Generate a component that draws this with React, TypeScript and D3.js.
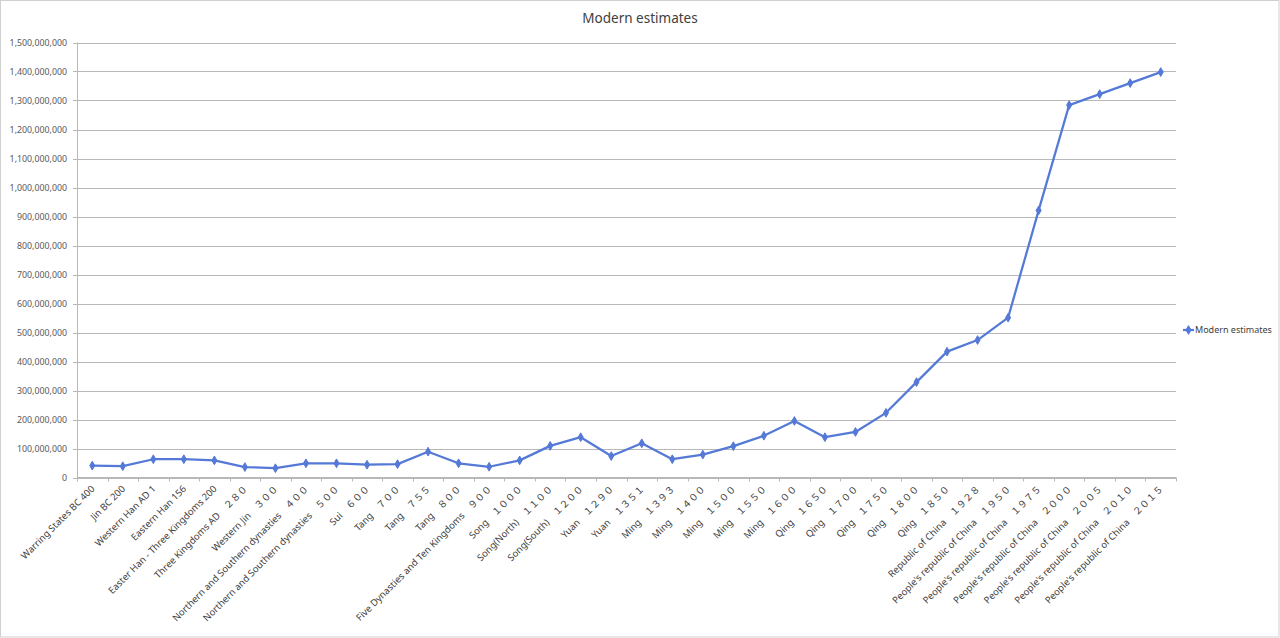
import React from "react";
import * as d3 from "d3";

const categories: string[] = [
  "Warring States BC 400",
  "Jin BC 200",
  "Western Han AD 1",
  "Eastern Han 156",
  "Easter Han - Three Kingdoms 200",
  "Three Kingdoms AD　２８０",
  "Western Jin　３００",
  "Northern and Southern dynasties　４００",
  "Northern and Southern dynasties　５００",
  "Sui　６００",
  "Tang　７００",
  "Tang　７５５",
  "Tang　８００",
  "Five Dynasties and Ten Kingdoms　９００",
  "Song　１０００",
  "Song(North)　１１００",
  "Song(South)　１２００",
  "Yuan　１２９０",
  "Yuan　１３５１",
  "Ming　１３９３",
  "Ming　１４００",
  "Ming　１５００",
  "Ming　１５５０",
  "Ming　１６００",
  "Qing　１６５０",
  "Qing　１７００",
  "Qing　１７５０",
  "Qing　１８００",
  "Qing　１８５０",
  "Republic of China　１９２８",
  "People's republic of China　１９５０",
  "People's republic of China　１９７５",
  "People's republic of China　２０００",
  "People's republic of China　２００５",
  "People's republic of China　２０１０",
  "People's republic of China　２０１５",
];

const modernEstimates: number[] = [
  41000000, 39000000, 63000000, 63000000, 59000000, 36000000, 32000000,
  49000000, 49000000, 44000000, 46000000, 89000000, 49000000, 37000000,
  59000000, 109000000, 139000000, 74000000, 118000000, 63000000, 79000000,
  108000000, 144000000, 195000000, 139000000, 157000000, 223000000,
  329000000, 434000000, 474000000, 551000000, 921000000, 1284000000,
  1322000000, 1360000000, 1398000000,
];

const yTicks: number[] = d3.range(0, 1500000001, 100000000);

const seriesName = "Modern estimates";
const titleText = "Modern estimates";

const W = 1280;
const H = 638;
const left = 77;
const right = 1176;
const top = 42.5;
const bottom = 477.5;

const FONT = "'Noto Sans', 'Noto Sans CJK KR', sans-serif";
const COLOR = "#5479d6";

export default function App() {
  const x = d3.scaleBand<string>().domain(categories).range([left, right]);
  const y = d3.scaleLinear().domain([0, 1500000000]).range([bottom, top]);
  const fmt = d3.format(",");
  const cx = (c: string) => (x(c) as number) + x.bandwidth() / 2;

  const line = d3
    .line<number>()
    .x((_, i) => cx(categories[i]))
    .y((d) => y(d));

  const diamond = d3.symbol().type(d3.symbolDiamond).size(22)() as string;

  const boundaries = categories.map((c) => x(c) as number).concat([right]);

  return (
    <svg
      width={W}
      height={H}
      style={{ position: "fixed", left: 0, top: 0, background: "#fff" }}
    >
      <rect x={0.5} y={0.5} width={W - 1.5} height={H - 1.5} fill="#fff" stroke="#d0d0d0" />
      <text
        x={640}
        y={23}
        textAnchor="middle"
        fontFamily={FONT}
        fontSize={13.5}
        fill="#404040"
      >
        {titleText}
      </text>

      {yTicks.map((t) => (
        <g key={t}>
          <line
            x1={left}
            x2={right}
            y1={Math.round(y(t)) + 0.5}
            y2={Math.round(y(t)) + 0.5}
            stroke="#b8b8b8"
            strokeWidth={1}
          />
          <line
            x1={left - 4}
            x2={left}
            y1={Math.round(y(t)) + 0.5}
            y2={Math.round(y(t)) + 0.5}
            stroke="#b8b8b8"
          />
          <text
            x={67}
            y={y(t)}
            dy="0.35em"
            textAnchor="end"
            fontFamily={FONT}
            fontSize={8.8}
            fill="#595959"
          >
            {fmt(t)}
          </text>
        </g>
      ))}

      <line x1={left + 0.5} x2={left + 0.5} y1={top} y2={bottom} stroke="#b8b8b8" />
      <line x1={left} x2={right} y1={bottom} y2={bottom} stroke="#b8b8b8" />
      {boundaries.map((b, i) => (
        <line
          key={i}
          x1={Math.round(b) + 0.5}
          x2={Math.round(b) + 0.5}
          y1={bottom}
          y2={bottom + 4}
          stroke="#b8b8b8"
        />
      ))}

      {categories.map((c) => (
        <text
          key={c}
          transform={`translate(${cx(c) + 3},${bottom + 12}) rotate(-45)`}
          textAnchor="end"
          fontFamily={FONT}
          fontSize={9.5}
          fill="#404040"
        >
          {c}
        </text>
      ))}

      <path
        d={line(modernEstimates) as string}
        fill="none"
        stroke={COLOR}
        strokeWidth={2.25}
        strokeLinejoin="round"
      />
      {modernEstimates.map((v, i) => (
        <path
          key={i}
          d={diamond}
          transform={`translate(${cx(categories[i])},${y(v)})`}
          fill={COLOR}
          stroke={COLOR}
        />
      ))}

      <g transform="translate(1183,330)">
        <line x1={0} x2={11} y1={0} y2={0} stroke={COLOR} strokeWidth={2.25} />
        <path d={diamond} transform="translate(5.5,0)" fill={COLOR} stroke={COLOR} />
        <text
          x={12}
          y={0}
          dy="0.35em"
          fontFamily={FONT}
          fontSize={9}
          fill="#404040"
        >
          {seriesName}
        </text>
      </g>
    </svg>
  );
}
